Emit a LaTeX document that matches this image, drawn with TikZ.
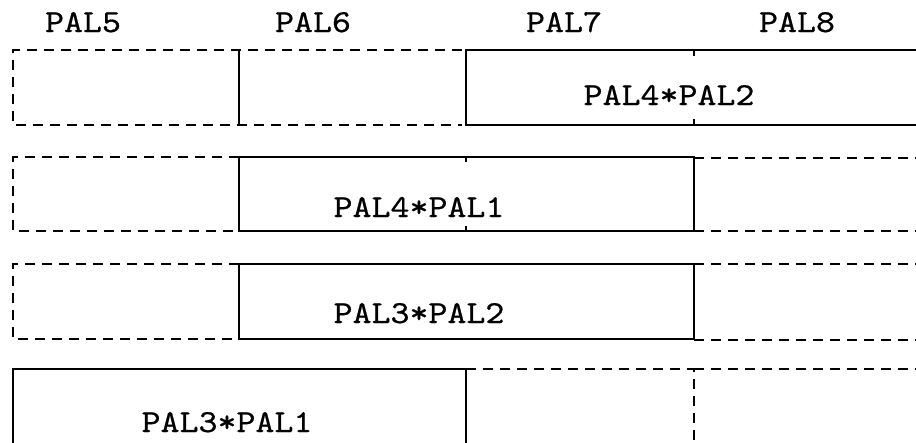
\documentclass[tikz,border=0pt]{standalone}
\usepackage{fontspec}
\usepackage{graphicx}

% typewriter lettering, slightly heavier than the stock mono face
\newfontfamily\labelfont{lmmono10-regular.otf}[FakeBold=0.6]
\newcommand\widetxt[1]{\scalebox{1.13}[1]{#1}}

\tikzset{
  x=1pt, y=-1pt,
  solidedge/.style={line width=2.8pt, line cap=rect, line join=miter},
  dashededge/.style={line width=2.6pt, dash pattern=on 10pt off 7pt},
  tickmark/.style={line width=1.4pt},
  lbl/.style={font=\fontsize{32}{36}\selectfont\labelfont, anchor=base, inner sep=0pt},
}

\begin{document}
\begin{tikzpicture}
  \useasboundingbox (0,0) rectangle (916,442);
  \clip (0,0) rectangle (916,442);

  % column headings
  \node[lbl] (h5) at (83,32)  {\widetxt{PAL5}};
  \node[lbl] (h6) at (313,32) {\widetxt{PAL6}};
  \node[lbl] (h7) at (564,32) {\widetxt{PAL7}};
  \node[lbl] (h8) at (797,32) {\widetxt{PAL8}};

  % row 1: empty PAL5/PAL6, product spanning PAL7-PAL8
  \draw[dashededge] (462,50) -- (13,50) -- (13,125) -- (462,125);
  \draw[solidedge] (239,50) -- (239,125);
  \draw[solidedge] (930,50) -- (466,50) -- (466,125) -- (930,125);
  \draw[tickmark] (694,50) -- (694,56) (694,119) -- (694,125);
  \node[lbl] (p42) at (669,105) {\widetxt{PAL4*PAL2}};

  % row 2: product spanning PAL6-PAL7
  \draw[dashededge] (239,157) -- (13,157) -- (13,231) -- (239,231);
  \draw[solidedge] (239,157) rectangle (694,231);
  \draw[dashededge] (694,158) -- (930,158) (694,231) -- (930,231);
  \draw[tickmark] (466,157) -- (466,162) (466,226) -- (466,231);
  \node[lbl] (p41) at (419,217) {\widetxt{PAL4*PAL1}};

  % row 3: product spanning PAL6-PAL7
  \draw[dashededge] (239,264) -- (13,264) -- (13,339) -- (239,339);
  \draw[solidedge] (239,264) rectangle (694,339);
  \draw[dashededge] (694,264) -- (930,264) (694,340) -- (930,340);
  \node[lbl] (p32) at (419,323) {\widetxt{PAL3*PAL2}};

  % row 4: product spanning PAL5-PAL6
  \draw[solidedge] (13,470) -- (13,369) -- (466,369) -- (466,470);
  \draw[dashededge] (466,369) -- (694,369) -- (694,470);
  \draw[dashededge] (694,369) -- (930,369);
  \node[lbl] (p31) at (227,432) {\widetxt{PAL3*PAL1}};
\end{tikzpicture}
\end{document}
